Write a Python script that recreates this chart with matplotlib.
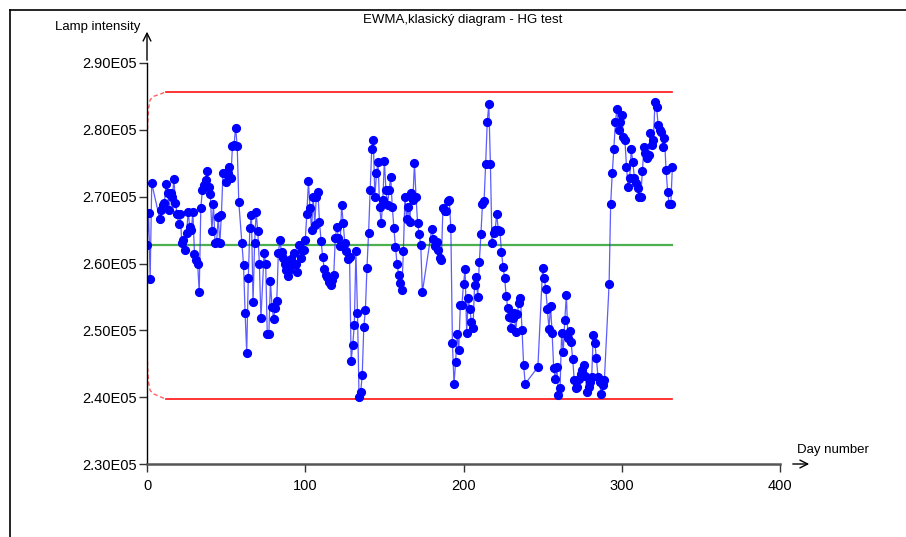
import numpy as np
import matplotlib.pyplot as plt
from matplotlib.ticker import FuncFormatter

plt.rcParams['font.family'] = ['Liberation Sans Narrow', 'Liberation Sans', 'DejaVu Sans']

# lamp intensity readings, in units of 1E05
days = [0, 1, 2, 3, 8, 9, 10, 11, 12, 13, 14, 15, 16, 17, 18, 19, 20, 21, 22, 23,
        24, 25, 26, 27, 28, 29, 30, 31, 32, 33, 34, 35, 36, 37, 38, 39, 40, 41, 42, 43,
        44, 45, 46, 47, 48, 49, 50, 51, 52, 53, 54, 55, 56, 57, 58, 60, 61, 62, 63, 64,
        65, 66, 67, 68, 69, 70, 71, 72, 74, 75, 76, 77, 78, 79, 80, 81, 82, 83, 84, 85,
        86, 87, 88, 89, 90, 91, 92, 93, 94, 95, 96, 97, 98, 99, 100, 101, 102, 103, 104, 105,
        106, 107, 108, 109, 110, 111, 112, 113, 114, 115, 116, 117, 118, 119, 120, 121, 122, 123, 124, 125,
        126, 127, 128, 129, 130, 131, 132, 133, 134, 135, 136, 137, 138, 139, 140, 141, 142, 143, 144, 145,
        146, 147, 148, 149, 150, 151, 152, 153, 154, 155, 156, 157, 158, 159, 160, 161, 162, 163, 164, 165,
        166, 167, 168, 169, 170, 171, 172, 173, 174, 180, 181, 182, 183, 184, 185, 186, 187, 188, 189, 190,
        191, 192, 193, 194, 195, 196, 197, 198, 199, 200, 201, 202, 203, 204, 205, 206, 207, 208, 209, 210,
        211, 212, 213, 214, 215, 216, 217, 218, 219, 220, 221, 222, 223, 224, 225, 226, 227, 228, 229, 230,
        231, 232, 233, 234, 235, 236, 237, 238, 239, 247, 250, 251, 252, 253, 254, 255, 256, 257, 258, 259,
        260, 261, 262, 263, 264, 265, 266, 267, 268, 269, 270, 271, 272, 273, 274, 275, 276, 277, 278, 279,
        280, 281, 282, 283, 284, 285, 286, 287, 288, 289, 292, 293, 294, 295, 296, 297, 298, 299, 300, 301,
        302, 303, 304, 305, 306, 307, 308, 309, 310, 311, 312, 313, 314, 315, 316, 317, 318, 319, 320, 321,
        322, 323, 324, 325, 326, 327, 328, 329, 330, 331, 332]
intensity = [2.627, 2.675, 2.577, 2.720, 2.667, 2.680, 2.687, 2.690, 2.719, 2.705,
             2.680, 2.705, 2.700, 2.726, 2.690, 2.674, 2.659, 2.674, 2.630, 2.635,
             2.620, 2.645, 2.677, 2.655, 2.650, 2.677, 2.614, 2.605, 2.600, 2.557,
             2.683, 2.710, 2.717, 2.725, 2.738, 2.715, 2.704, 2.648, 2.689, 2.630,
             2.632, 2.670, 2.630, 2.672, 2.735, 2.736, 2.722, 2.736, 2.744, 2.728,
             2.776, 2.778, 2.803, 2.776, 2.692, 2.630, 2.598, 2.526, 2.466, 2.578,
             2.653, 2.672, 2.542, 2.630, 2.677, 2.648, 2.600, 2.518, 2.616, 2.600,
             2.494, 2.494, 2.574, 2.535, 2.517, 2.533, 2.544, 2.616, 2.635, 2.617,
             2.608, 2.600, 2.590, 2.581, 2.590, 2.607, 2.600, 2.616, 2.600, 2.587,
             2.627, 2.608, 2.620, 2.620, 2.635, 2.674, 2.723, 2.683, 2.650, 2.700,
             2.658, 2.700, 2.707, 2.662, 2.634, 2.610, 2.592, 2.583, 2.580, 2.573,
             2.568, 2.575, 2.583, 2.638, 2.655, 2.638, 2.626, 2.688, 2.660, 2.630,
             2.618, 2.607, 2.610, 2.454, 2.478, 2.508, 2.618, 2.526, 2.400, 2.407,
             2.433, 2.505, 2.530, 2.594, 2.645, 2.710, 2.771, 2.785, 2.700, 2.735,
             2.752, 2.685, 2.660, 2.695, 2.753, 2.710, 2.688, 2.710, 2.730, 2.685,
             2.653, 2.625, 2.600, 2.583, 2.571, 2.560, 2.618, 2.700, 2.667, 2.685,
             2.662, 2.705, 2.695, 2.750, 2.700, 2.660, 2.644, 2.627, 2.557, 2.652,
             2.637, 2.626, 2.632, 2.620, 2.608, 2.605, 2.683, 2.678, 2.678, 2.693,
             2.695, 2.653, 2.481, 2.420, 2.452, 2.494, 2.470, 2.538, 2.538, 2.569,
             2.592, 2.496, 2.548, 2.532, 2.512, 2.503, 2.568, 2.580, 2.550, 2.602,
             2.644, 2.689, 2.693, 2.749, 2.812, 2.838, 2.749, 2.630, 2.645, 2.650,
             2.674, 2.650, 2.648, 2.617, 2.595, 2.578, 2.551, 2.533, 2.520, 2.503,
             2.518, 2.526, 2.498, 2.525, 2.541, 2.548, 2.500, 2.448, 2.420, 2.445,
             2.593, 2.578, 2.562, 2.532, 2.502, 2.536, 2.496, 2.443, 2.427, 2.445,
             2.403, 2.413, 2.496, 2.467, 2.515, 2.553, 2.488, 2.499, 2.482, 2.457,
             2.425, 2.413, 2.415, 2.427, 2.435, 2.440, 2.448, 2.431, 2.407, 2.415,
             2.423, 2.430, 2.493, 2.481, 2.458, 2.430, 2.422, 2.405, 2.418, 2.425,
             2.569, 2.689, 2.735, 2.771, 2.812, 2.831, 2.800, 2.812, 2.822, 2.790,
             2.785, 2.745, 2.715, 2.728, 2.771, 2.752, 2.728, 2.720, 2.713, 2.700,
             2.700, 2.738, 2.774, 2.765, 2.758, 2.762, 2.795, 2.777, 2.785, 2.842,
             2.834, 2.807, 2.800, 2.797, 2.774, 2.788, 2.740, 2.707, 2.689, 2.689,
             2.745]

center = 2.627
# control limits: start-up part (dashed) then steady part
lim_days_start = [0, 0.5, 1, 2, 4, 8, 12]
ucl_start = [2.780, 2.812, 2.832, 2.845, 2.850, 2.853, 2.857]
lcl_start = [2.475, 2.440, 2.422, 2.410, 2.405, 2.401, 2.397]
lim_days = [12, 332]
ucl = [2.857, 2.857]
lcl = [2.397, 2.397]

scale = 1e5
W, H = 906, 537
fig = plt.figure(figsize=(W / 100, H / 100), dpi=100)
ax = fig.add_axes([147 / W, 1 - 464 / H, 633 / W, 401 / H])

ax.plot(lim_days_start, np.array(ucl_start) * scale, color='#ff6060', lw=1.0, ls=(0, (3, 2)))
ax.plot(lim_days_start, np.array(lcl_start) * scale, color='#ff6060', lw=1.0, ls=(0, (3, 2)))
ax.plot(lim_days, np.array(ucl) * scale, color='#ff1010', lw=1.2)
ax.plot(lim_days, np.array(lcl) * scale, color='#ff1010', lw=1.2)
ax.plot([0, 332], [center * scale, center * scale], color='#4caf50', lw=1.6)

ax.plot(days, np.array(intensity) * scale, color='#3333ff', lw=0.9, alpha=0.8)
ax.plot(days, np.array(intensity) * scale, ls='none', marker='o', ms=5.6,
        color='#0000ff', mec='#0000ff')

ax.set_xlim(0, 400)
ax.set_ylim(230000, 290000)
ax.set_xticks([0, 100, 200, 300, 400])
ax.set_yticks(np.arange(230000, 290001, 10000))
ax.yaxis.set_major_formatter(FuncFormatter(lambda v, p: f"{v / scale:.2f}E05"))
ax.tick_params(axis='both', direction='out', length=6, width=1, labelsize=10.5, colors='#333333',
               labelcolor='black')
ax.tick_params(axis='y', pad=1)
ax.tick_params(axis='x', pad=5)

for s in ['top', 'right']:
    ax.spines[s].set_visible(False)
ax.spines['left'].set_linewidth(1.0)
ax.spines['bottom'].set_linewidth(1.8)
ax.spines['bottom'].set_color('#555555')

# axis arrows
ax.annotate('', xy=(0, 1.085), xytext=(0, 1.0), xycoords='axes fraction',
            arrowprops=dict(arrowstyle='->', lw=1.0, color='black', mutation_scale=14))
ax.annotate('', xy=(812 / W, 1 - 464 / H), xytext=(790 / W, 1 - 464 / H),
            xycoords='figure fraction',
            arrowprops=dict(arrowstyle='->', lw=1.0, color='black', mutation_scale=14))

fig.text(463 / W, 1 - 20 / H, 'EWMA,klasický diagram - HG test', ha='center', va='center', fontsize=9.5)
fig.text(55 / W, 1 - 27 / H, 'Lamp intensity', ha='left', va='center', fontsize=9.5)
fig.text(797 / W, 1 - 450 / H, 'Day number', ha='left', va='center', fontsize=9.5)

# outer frame (left and top edges)
fig.add_artist(plt.Line2D([10 / W, 10 / W], [0, 1 - 10 / H], color='black', lw=1.2))
fig.add_artist(plt.Line2D([10 / W, 1], [1 - 10 / H, 1 - 10 / H], color='black', lw=1.2))

fig.savefig('out.png', dpi=100)
